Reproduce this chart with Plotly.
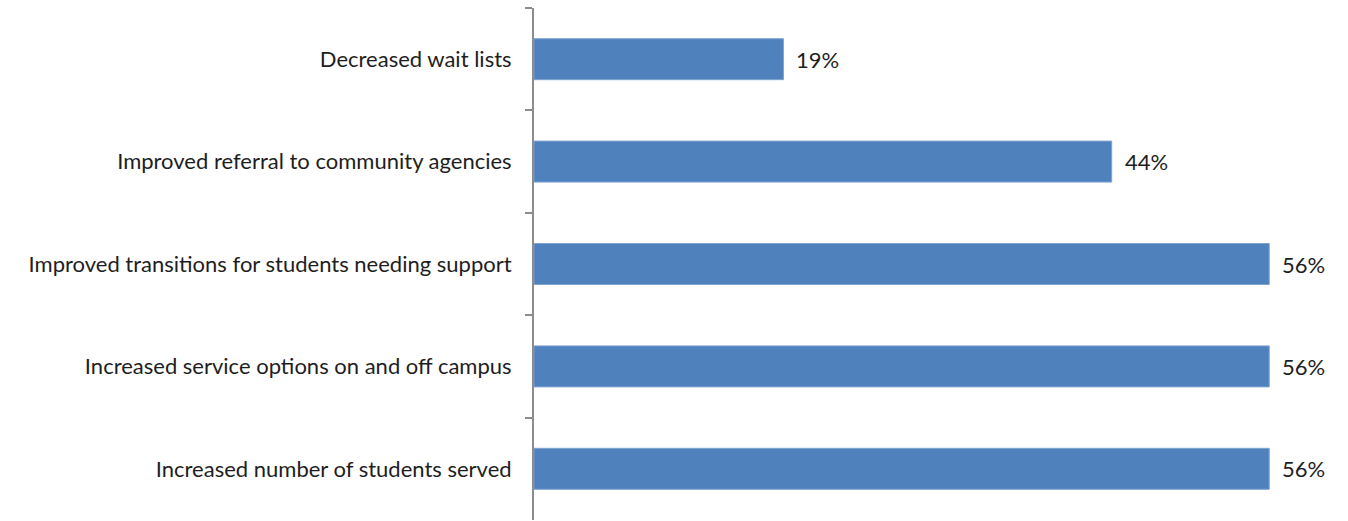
import plotly.graph_objects as go

# Survey outcomes (percent of respondents), listed top to bottom
categories = [
    "Decreased wait lists",
    "Improved referral to community agencies",
    "Improved transitions for students needing support",
    "Increased service options on and off campus",
    "Increased number of students served",
]
values = [19, 44, 56, 56, 56]
value_labels = ["19%", "44%", "56%", "56%", "56%"]

BAR_COLOR = "#4F81BD"
TEXT_COLOR = "#1E1E1E"
AXIS_COLOR = "#8C8C8C"
FONT = "Lato"

fig = go.Figure(
    go.Bar(
        x=values,
        y=categories,
        orientation="h",
        marker=dict(color=BAR_COLOR, line=dict(color="#7FA2D0", width=1)),
        hoverinfo="skip",
    )
)

# Value labels placed just past the end of each bar
for cat, val, lab in zip(categories, values, value_labels):
    fig.add_annotation(
        x=val, y=cat, text=lab, showarrow=False,
        xanchor="left", xshift=11,
        font=dict(family=FONT, size=22, color=TEXT_COLOR),
    )

fig.update_layout(
    width=1348, height=521,
    margin=dict(l=534, r=0, t=8, b=1),
    paper_bgcolor="white", plot_bgcolor="white",
    bargap=0.6,
    showlegend=False,
    font=dict(family=FONT, size=22, color=TEXT_COLOR),
)
fig.update_xaxes(range=[0, 62], visible=False)
fig.update_yaxes(
    autorange="reversed",
    showline=True, linecolor=AXIS_COLOR, linewidth=2,
    ticks="outside", tickson="boundaries", ticklen=7,
    tickcolor=AXIS_COLOR, tickwidth=2,
    showgrid=False, ticklabelstandoff=16,
    tickfont=dict(family=FONT, size=22, color=TEXT_COLOR),
)

fig.write_html("out.html")
